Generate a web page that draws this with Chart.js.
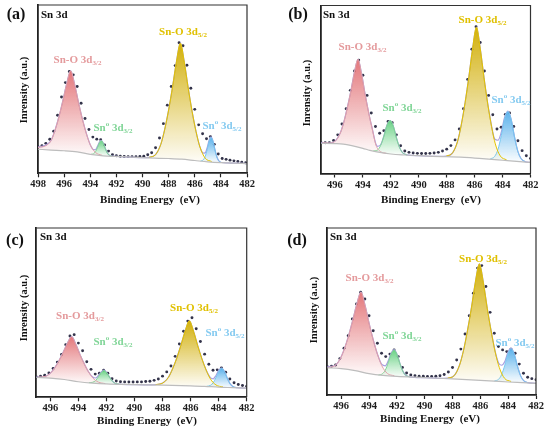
<!DOCTYPE html>
<html>
<head>
<meta charset="utf-8">
<script src="https://cdn.jsdelivr.net/npm/chart.js@4.4.1/dist/chart.umd.min.js"></script>
<style>
html, body { margin: 0; padding: 0; background: #fff; }
#wrap { position: relative; width: 550px; height: 432px; overflow: hidden; }
canvas { position: absolute; }
</style>
</head>
<body>
<div id="wrap">
<canvas id="pa" width="275" height="216" style="left:0;top:0"></canvas>
<canvas id="pb" width="275" height="216" style="left:275px;top:0"></canvas>
<canvas id="pc" width="275" height="216" style="left:0;top:216px"></canvas>
<canvas id="pd" width="275" height="216" style="left:275px;top:216px"></canvas>
</div>
<script>
// ---- panel (a) ----
const ticksA = [498, 496, 494, 492, 490, 488, 486, 484, 482];
const dotXA = [498.0, 497.7, 497.4, 497.1, 496.8, 496.5, 496.2, 495.9, 495.6, 495.3, 495.0, 494.7, 494.4, 494.1, 493.8, 493.5, 493.2, 492.9, 492.6, 492.3, 492.0, 491.7, 491.4, 491.1, 490.8, 490.5, 490.2, 489.9, 489.6, 489.3, 489.0, 488.7, 488.4, 488.1, 487.8, 487.5, 487.2, 486.9, 486.6, 486.3, 486.0, 485.7, 485.4, 485.1, 484.8, 484.5, 484.2, 483.9, 483.6, 483.3, 483.0, 482.7, 482.4, 482.1];
const dotYA = [15.8, 16.4, 17.8, 20.2, 25.0, 34.5, 45.3, 53.9, 60.5, 58.5, 51.6, 41.6, 32.6, 26.0, 21.5, 20.3, 20.0, 16.8, 13.2, 11.0, 10.4, 10.1, 10.0, 9.9, 9.9, 9.9, 10.0, 10.2, 11.0, 12.2, 15.2, 21.0, 29.5, 40.5, 51.6, 64.0, 77.6, 75.8, 64.2, 50.5, 38.0, 28.8, 23.5, 20.5, 21.8, 17.2, 11.5, 8.8, 8.3, 7.8, 7.4, 7.0, 6.6, 6.3];
const bgXA = [498, 497, 496, 495, 494, 493, 492, 490, 488, 487, 486, 485, 484, 483, 482];
const bgYA = [14.3, 13.8, 13.4, 12.7, 11.3, 10.4, 10.0, 9.3, 8.8, 8.4, 7.6, 6.8, 6.3, 6.0, 5.8];
const p1XA = [498.0, 497.4, 497.0, 496.7, 496.4, 496.1, 495.8, 495.5, 495.2, 494.9, 494.6, 494.3, 494.0, 493.6, 493.1];
const p1YA = [15.4, 16.4, 19.5, 25.6, 33.6, 43.1, 53.4, 60.9, 53.0, 42.2, 32.2, 23.7, 17.0, 12.4, 10.7];
const p2XA = [493.95, 493.75, 493.6, 493.45, 493.3, 493.15, 493.0, 492.85, 492.7, 492.55, 492.35];
const p2YA = [11.3, 11.6, 12.8, 15.2, 18.1, 19.4, 17.8, 14.8, 12.1, 10.8, 10.2];
const p3XA = [489.5, 489.0, 488.6, 488.3, 488.0, 487.7, 487.4, 487.1, 486.8, 486.5, 486.2, 485.9, 485.6, 485.2, 484.7];
const p3YA = [9.5, 11.1, 17.2, 26.1, 37.7, 51.4, 66.4, 77.3, 66.1, 50.7, 36.7, 24.8, 15.6, 9.0, 7.0];
const p4XA = [485.55, 485.35, 485.2, 485.05, 484.9, 484.75, 484.6, 484.45, 484.3, 484.15, 483.95];
const p4YA = [7.3, 8.0, 10.0, 14.1, 19.0, 21.3, 18.9, 13.8, 9.5, 7.3, 6.4];
const envXA = [498, 497.4, 497.0, 496.7, 496.4, 496.1, 495.8, 495.5, 495.2, 494.9, 494.6, 494.3, 494.0, 493.75, 493.6, 493.45, 493.3, 493.15, 493.0, 492.85, 492.7, 492.5, 492.0, 491.0, 490.0, 489.5, 489.0, 488.6, 488.3, 488.0, 487.7, 487.4, 487.1, 486.8, 486.5, 486.2, 485.9, 485.6, 485.35, 485.2, 485.05, 484.9, 484.75, 484.6, 484.45, 484.3, 484.15, 483.95, 483.5, 483.0, 482.0];
const envYA = [15.6, 16.8, 19.5, 25.6, 33.6, 43.1, 53.4, 60.9, 53.0, 42.2, 32.2, 23.7, 17.0, 14.1, 14.0, 16.0, 18.6, 19.6, 17.9, 14.9, 12.2, 10.5, 10.0, 9.65, 9.3, 9.5, 11.1, 17.2, 26.1, 37.7, 51.4, 66.4, 77.3, 66.1, 50.7, 36.7, 24.8, 15.6, 12.0, 12.1, 15.2, 19.6, 21.6, 19.0, 13.9, 9.7, 7.4, 6.4, 6.15, 6.0, 5.8];

// ---- panels (b)-(d) share the energy grid ----
const ticksBCD = [496, 494, 492, 490, 488, 486, 484, 482];
const dotXBCD = [497.0, 496.7, 496.4, 496.1, 495.8, 495.5, 495.2, 494.9, 494.6, 494.3, 494.0, 493.7, 493.4, 493.1, 492.8, 492.5, 492.2, 491.9, 491.6, 491.3, 491.0, 490.7, 490.4, 490.1, 489.8, 489.5, 489.2, 488.9, 488.6, 488.3, 488.0, 487.7, 487.4, 487.1, 486.8, 486.5, 486.2, 485.9, 485.6, 485.3, 485.0, 484.7, 484.4, 484.1, 483.8, 483.5, 483.2, 482.9, 482.6, 482.3, 482.0];

// ---- panel (b) ----
const dotYB = [18.4, 18.3, 18.4, 19.6, 23.0, 29.5, 38.5, 49.5, 61.0, 67.5, 58.5, 46.5, 36.0, 28.0, 24.0, 25.5, 31.0, 30.2, 23.0, 16.5, 13.4, 12.6, 12.2, 12.0, 11.9, 11.9, 12.0, 12.2, 12.6, 13.4, 14.5, 16.6, 20.0, 26.5, 38.5, 56.0, 74.0, 87.4, 78.0, 61.0, 46.5, 35.0, 26.5, 27.5, 35.2, 36.0, 28.0, 19.5, 13.6, 10.6, 9.0];
const bgXB = [497, 496, 495.4, 494.8, 494, 493.5, 493, 492, 491, 490, 489, 488, 487, 486, 485, 484, 483, 482];
const bgYB = [18.0, 17.8, 17.5, 16.6, 15.0, 13.8, 12.9, 11.6, 11.0, 10.6, 10.2, 10.0, 9.8, 9.2, 8.6, 7.9, 7.2, 6.6];
const p1XB = [496.9, 496.39, 495.97, 495.63, 495.37, 495.12, 494.86, 494.61, 494.35, 494.09, 493.84, 493.58, 493.33, 493.07, 492.73, 492.31];
const p1YB = [18.3, 18.1, 19.4, 23.9, 30.5, 39.1, 49.2, 60.2, 68.0, 59.1, 47.1, 36.0, 26.6, 17.0, 13.0, 12.0];
const p2XB = [493.25, 492.95, 492.73, 492.5, 492.28, 492.05, 491.82, 491.6, 491.37, 491.15, 490.85];
const p2YB = [13.5, 14.0, 16.7, 22.2, 28.7, 31.5, 28.2, 21.3, 15.4, 12.3, 11.1];
const p3XB = [488.03, 487.58, 487.22, 486.95, 486.68, 486.41, 486.14, 485.87, 485.6, 485.33, 485.06, 484.79, 484.52, 484.16, 483.71];
const p3YB = [10.4, 12.3, 19.2, 29.3, 42.4, 57.8, 74.8, 87.1, 74.5, 57.2, 41.4, 28.0, 17.6, 10.4, 8.1];
const p4XB = [484.88, 484.57, 484.33, 484.09, 483.86, 483.62, 483.38, 483.15, 482.91, 482.67, 482.36];
const p4YB = [8.7, 10.1, 14.3, 22.6, 32.4, 36.9, 32.1, 22.0, 13.3, 8.8, 7.0];
const envXB = [497.0, 496.39, 495.97, 495.63, 495.37, 495.12, 494.86, 494.61, 494.35, 494.09, 493.84, 493.58, 493.33, 493.07, 492.95, 492.73, 492.5, 492.28, 492.05, 491.82, 491.6, 491.37, 491.15, 490.85, 490.0, 489.0, 488.03, 487.58, 487.22, 486.95, 486.68, 486.41, 486.14, 485.87, 485.6, 485.33, 485.06, 484.88, 484.79, 484.57, 484.33, 484.09, 483.86, 483.62, 483.38, 483.15, 482.91, 482.67, 482.36, 482.0];
const envYB = [18.3, 18.1, 19.4, 23.9, 30.5, 39.1, 49.2, 60.2, 68.0, 59.1, 47.1, 36.0, 26.7, 17.6, 16.2, 17.1, 22.3, 28.7, 31.5, 28.2, 21.3, 15.4, 12.3, 11.1, 10.6, 10.2, 10.4, 12.3, 19.2, 29.3, 42.4, 57.8, 74.8, 87.1, 74.5, 57.2, 41.4, 32.7, 28.4, 20.6, 19.8, 24.6, 33.2, 37.2, 32.1, 22.0, 13.3, 8.8, 7.0, 6.6];

// ---- panel (c) ----
const dotYC = [12.0, 12.4, 13.0, 14.4, 17.0, 20.8, 25.3, 31.0, 36.2, 37.0, 32.0, 27.5, 21.0, 16.5, 13.7, 14.2, 16.0, 14.2, 11.0, 9.6, 9.2, 9.1, 9.0, 9.0, 9.1, 9.1, 9.3, 9.5, 10.0, 10.8, 12.5, 15.0, 18.5, 24.2, 31.5, 39.0, 45.0, 47.0, 40.5, 33.0, 25.5, 19.5, 16.0, 16.2, 17.4, 14.8, 10.8, 8.6, 7.6, 7.0, 6.6];
const bgXC = [497, 496, 495, 494, 493, 492, 490, 488, 486, 485, 484, 483, 482];
const bgYC = [11.8, 11.3, 10.5, 9.2, 8.4, 7.9, 7.5, 7.2, 6.8, 6.5, 6.0, 5.7, 5.4];
const p1XC = [496.88, 496.38, 495.98, 495.68, 495.38, 495.08, 494.78, 494.48, 494.18, 493.88, 493.58, 493.28, 492.98, 492.58, 492.08];
const p1YC = [11.9, 12.3, 14.4, 17.5, 21.7, 26.7, 32.1, 35.8, 31.3, 25.2, 19.8, 15.1, 11.5, 9.0, 8.1];
const p2XC = [493.24, 492.97, 492.77, 492.57, 492.37, 492.17, 491.97, 491.77, 491.57, 491.37, 491.1];
const p2YC = [8.65, 8.9, 9.9, 12.1, 14.6, 15.8, 14.4, 11.8, 9.5, 8.2, 7.8];
const p3XC = [488.49, 487.99, 487.59, 487.29, 486.99, 486.69, 486.39, 486.09, 485.79, 485.49, 485.19, 484.89, 484.59, 484.19, 483.69];
const p3YC = [7.5, 8.4, 11.7, 16.7, 23.1, 30.8, 39.1, 45.2, 39.0, 30.5, 22.7, 16.1, 10.9, 7.3, 6.1];
const p4XC = [484.86, 484.59, 484.39, 484.19, 483.99, 483.79, 483.59, 483.39, 483.19, 482.99, 482.72];
const p4YC = [6.5, 7.0, 8.6, 11.7, 15.4, 17.1, 15.3, 11.4, 8.1, 6.4, 5.7];
const envXC = [497.0, 496.88, 496.38, 495.98, 495.68, 495.38, 495.08, 494.78, 494.48, 494.18, 493.88, 493.58, 493.28, 492.98, 492.77, 492.57, 492.37, 492.17, 491.97, 491.77, 491.57, 491.37, 491.1, 490.0, 489.0, 488.49, 487.99, 487.59, 487.29, 486.99, 486.69, 486.39, 486.09, 485.79, 485.49, 485.19, 484.89, 484.59, 484.39, 484.19, 483.99, 483.79, 483.59, 483.39, 483.19, 482.99, 482.72, 482.0];
const envYC = [11.9, 11.9, 12.3, 14.4, 17.5, 21.7, 26.7, 32.1, 35.8, 31.3, 25.2, 19.8, 15.1, 12.0, 11.4, 12.9, 15.0, 16.0, 14.5, 11.8, 9.5, 8.2, 7.8, 7.5, 7.35, 7.5, 8.4, 11.7, 16.7, 23.1, 30.8, 39.1, 45.2, 39.0, 30.5, 22.7, 16.1, 11.6, 10.9, 12.9, 16.0, 17.3, 15.4, 11.4, 8.1, 6.4, 5.7, 5.4];

// ---- panel (d) ----
const dotYD = [17.0, 17.2, 18.0, 21.8, 28.0, 35.5, 45.5, 54.5, 61.6, 57.5, 47.5, 38.5, 31.0, 25.0, 23.0, 24.5, 27.0, 23.0, 16.5, 13.2, 12.0, 11.5, 11.3, 11.2, 11.1, 11.1, 11.2, 11.5, 12.3, 13.8, 16.5, 21.0, 27.5, 36.5, 47.5, 61.0, 76.0, 77.5, 65.0, 49.5, 37.0, 29.0, 27.0, 26.0, 27.5, 25.0, 18.5, 13.0, 10.6, 9.8, 9.2];
const bgXD = [497, 496, 495, 494, 493, 492, 490, 488, 486, 485, 484, 483, 482];
const bgYD = [16.3, 15.8, 14.6, 12.8, 11.7, 11.1, 10.4, 9.6, 8.8, 8.3, 7.8, 7.4, 7.0];
const p1XD = [496.98, 496.48, 496.08, 495.78, 495.48, 495.18, 494.88, 494.58, 494.28, 493.98, 493.68, 493.38, 493.08, 492.68, 492.18];
const p1YD = [16.5, 17.5, 21.6, 27.5, 35.3, 44.5, 54.5, 61.6, 53.5, 42.4, 32.5, 24.1, 17.5, 12.9, 11.5];
const p2XD = [493.32, 493.04, 492.83, 492.62, 492.41, 492.2, 491.99, 491.78, 491.57, 491.36, 491.08];
const p2YD = [12.0, 12.7, 14.9, 19.3, 24.5, 26.9, 24.3, 18.9, 14.3, 11.8, 10.9];
const p3XD = [488.35, 487.88, 487.5, 487.21, 486.93, 486.64, 486.36, 486.07, 485.78, 485.5, 485.21, 484.93, 484.64, 484.26, 483.79];
const p3YD = [10.1, 11.6, 17.8, 26.7, 38.4, 52.3, 67.5, 78.5, 67.2, 51.8, 37.7, 25.7, 16.5, 10.0, 8.1];
const p4XD = [484.99, 484.69, 484.47, 484.24, 484.02, 483.79, 483.56, 483.34, 483.11, 482.89, 482.59];
const p4YD = [8.4, 9.4, 12.2, 17.9, 24.6, 27.7, 24.4, 17.5, 11.6, 8.6, 7.4];
const envXD = [497.0, 496.48, 496.08, 495.78, 495.48, 495.18, 494.88, 494.58, 494.28, 493.98, 493.68, 493.38, 493.08, 492.83, 492.62, 492.41, 492.2, 491.99, 491.78, 491.57, 491.36, 491.08, 490.0, 489.0, 488.35, 487.88, 487.5, 487.21, 486.93, 486.64, 486.36, 486.07, 485.78, 485.5, 485.21, 484.93, 484.69, 484.47, 484.24, 484.02, 483.79, 483.56, 483.34, 483.11, 482.89, 482.59, 482.0];
const envYD = [17.0, 17.5, 21.6, 27.5, 35.3, 44.5, 54.5, 61.6, 53.5, 42.4, 32.5, 24.1, 18.3, 17.5, 20.5, 25.1, 27.2, 24.4, 18.9, 14.3, 11.8, 10.9, 10.4, 10.0, 10.1, 11.6, 17.8, 26.7, 38.4, 52.3, 67.5, 78.5, 67.2, 51.8, 37.7, 25.9, 19.2, 17.8, 20.0, 25.6, 28.1, 24.5, 17.5, 11.6, 8.6, 7.4, 7.0];

// peak names (text parts: n = normal, sub, sup)
const nameSnO32 = [['Sn-O 3d', 'n'], ['3/2', 'sub']];
const nameSn032 = [['Sn', 'n'], ['o', 'sup'], [' 3d', 'n'], ['3/2', 'sub']];
const nameSnO52 = [['Sn-O 3d', 'n'], ['5/2', 'sub']];
const nameSn052 = [['Sn', 'n'], ['o', 'sup'], [' 3d', 'n'], ['5/2', 'sub']];

const SERIF = '"Liberation Serif", "Times New Roman", serif';
const PINK = '226,112,116', GREEN = '100,208,128', GOLD = '208,172,0', BLUE = '84,174,234';
const TXT = { pink: '#e49a9c', green: '#80d597', gold: '#e0c000', blue: '#84caf0' };

Chart.defaults.font.family = SERIF;

const pts = (xs, ys) => xs.map((x, i) => ({ x: x, y: ys[i] }));

// vertical fade from the peak top down to its foot
const fade = rgb => c => {
  const ch = c.chart;
  if (!ch.chartArea || !c.dataset) return 'rgba(' + rgb + ',0.5)';
  const ys = c.dataset.data.map(d => d.y);
  const sy = ch.scales.y;
  const g = ch.ctx.createLinearGradient(0, sy.getPixelForValue(Math.max(...ys)), 0, sy.getPixelForValue(Math.min(...ys)));
  g.addColorStop(0, 'rgba(' + rgb + ',0.95)');
  g.addColorStop(1, 'rgba(' + rgb + ',0.03)');
  return g;
};

function drawName(ctx, parts, cx, cy, color) {
  const big = 'bold 11px ' + SERIF, small = 'bold 7px ' + SERIF;
  let w = 0;
  parts.forEach(p => { ctx.font = p[1] === 'n' ? big : small; w += ctx.measureText(p[0]).width; });
  let x = cx - w / 2;
  ctx.fillStyle = color;
  ctx.textBaseline = 'middle';
  ctx.textAlign = 'left';
  parts.forEach(p => {
    ctx.font = p[1] === 'n' ? big : small;
    const dy = p[1] === 'sub' ? 3.2 : (p[1] === 'sup' ? -3.5 : 0);
    ctx.fillText(p[0], x, cy + dy);
    x += ctx.measureText(p[0]).width;
  });
}

function panel(id, p) {
  const W = 275, H = 216, a = p.area;
  const peak = (xs, ys, rgb, line) => ({
    data: pts(xs, ys), borderColor: line, borderWidth: 1, pointRadius: 0,
    cubicInterpolationMode: 'monotone', fill: { target: 0 }, backgroundColor: fade(rgb)
  });
  const deco = {
    id: 'deco',
    afterDraw(chart) {
      const ctx = chart.ctx, ca = chart.chartArea;
      ctx.save();
      ctx.strokeStyle = '#333';
      ctx.lineWidth = 1.2;
      ctx.beginPath();
      ctx.moveTo(ca.left, ca.top);
      ctx.lineTo(ca.right, ca.top);
      ctx.lineTo(ca.right, ca.bottom);
      ctx.stroke();
      p.names.forEach(n => drawName(ctx, n[0], n[1], n[2], n[3]));
      ctx.fillStyle = '#111';
      ctx.textBaseline = 'middle';
      ctx.textAlign = 'center';
      ctx.font = 'bold 16px ' + SERIF;
      ctx.fillText(p.letter, p.letterAt[0], p.letterAt[1]);
      ctx.textAlign = 'left';
      ctx.font = 'bold 11px ' + SERIF;
      ctx.fillText('Sn 3d', p.snAt[0], p.snAt[1]);
      ctx.textAlign = 'center';
      ctx.font = 'bold 11px ' + SERIF;
      ctx.fillText('Binding Energy  (eV)', p.xTitleAt[0], p.xTitleAt[1]);
      ctx.translate(p.yTitleAt[0], p.yTitleAt[1]);
      ctx.rotate(-Math.PI / 2);
      ctx.font = 'bold 10.5px ' + SERIF;
      ctx.fillText('Inrensity (a.u.)', 0, 0);
      ctx.restore();
    }
  };
  new Chart(document.getElementById(id), {
    type: 'line',
    data: {
      datasets: [
        { data: pts(p.bgX, p.bgY), borderColor: '#bdbdbd', borderWidth: 1.2, pointRadius: 0, cubicInterpolationMode: 'monotone', fill: false },
        peak(p.p1X, p.p1Y, PINK, '#e0a2ab'),
        peak(p.p2X, p.p2Y, GREEN, '#80d597'),
        peak(p.p3X, p.p3Y, GOLD, '#e2c300'),
        peak(p.p4X, p.p4Y, BLUE, '#76c7f0'),
        { data: pts(p.envX, p.envY), borderColor: '#a89fe0', borderWidth: 1.2, pointRadius: 0, cubicInterpolationMode: 'monotone', fill: false },
        { data: pts(p.dotX, p.dotY), showLine: false, pointRadius: 1.45, pointBackgroundColor: '#33334a', pointBorderWidth: 0, fill: false }
      ]
    },
    options: {
      responsive: false,
      animation: false,
      events: [],
      layout: { padding: { left: a[0], top: a[1], right: W - a[2], bottom: 0 } },
      plugins: { legend: { display: false }, tooltip: { enabled: false } },
      scales: {
        x: {
          type: 'linear', min: p.xMin, max: p.xMax, reverse: true,
          afterBuildTicks: s => { s.ticks = p.ticks.map(v => ({ value: v })); },
          afterFit: s => { s.height = H - a[3]; },
          ticks: { font: { family: SERIF, size: 10.5, weight: 'bold' }, color: '#1e1e1e', padding: 1, maxRotation: 0, autoSkip: false },
          grid: { display: true, drawOnChartArea: false, drawTicks: true, tickLength: 4, tickWidth: 1.2, tickColor: '#222' },
          border: { display: true, color: '#222', width: 1.8 }
        },
        y: {
          type: 'linear', min: 0, max: 100,
          afterFit: s => { s.width = 0; },
          ticks: { display: false },
          grid: { display: false, drawTicks: false },
          border: { display: true, color: '#222', width: 1.8 }
        }
      }
    },
    plugins: [deco]
  });
}

panel('pa', {
  area: [38, 5, 247, 173.3], xMin: 482, xMax: 498, ticks: ticksA,
  dotX: dotXA, dotY: dotYA, bgX: bgXA, bgY: bgYA, envX: envXA, envY: envYA,
  p1X: p1XA, p1Y: p1YA, p2X: p2XA, p2Y: p2YA, p3X: p3XA, p3Y: p3YA, p4X: p4XA, p4Y: p4YA,
  letter: '(a)', letterAt: [16, 15], snAt: [41, 15], xTitleAt: [150, 200], yTitleAt: [24, 90],
  names: [[nameSnO32, 77.5, 60, TXT.pink], [nameSn032, 113, 128, TXT.green], [nameSnO52, 183, 32, TXT.gold], [nameSn052, 222, 126, TXT.blue]]
});
panel('pb', {
  area: [46, 5.5, 255.5, 173.5], xMin: 482, xMax: 497, ticks: ticksBCD,
  dotX: dotXBCD, dotY: dotYB, bgX: bgXB, bgY: bgYB, envX: envXB, envY: envYB,
  p1X: p1XB, p1Y: p1YB, p2X: p2XB, p2Y: p2YB, p3X: p3XB, p3Y: p3YB, p4X: p4XB, p4Y: p4YB,
  letter: '(b)', letterAt: [23, 15], snAt: [48, 15], xTitleAt: [156, 200], yTitleAt: [32, 93],
  names: [[nameSnO32, 87.5, 47, TXT.pink], [nameSn032, 127, 108, TXT.green], [nameSnO52, 207.5, 20, TXT.gold], [nameSn052, 236, 100, TXT.blue]]
});
panel('pc', {
  area: [36.3, 12, 246.7, 181.3], xMin: 482, xMax: 497, ticks: ticksBCD,
  dotX: dotXBCD, dotY: dotYC, bgX: bgXC, bgY: bgYC, envX: envXC, envY: envYC,
  p1X: p1XC, p1Y: p1YC, p2X: p2XC, p2Y: p2YC, p3X: p3XC, p3Y: p3YC, p4X: p4XC, p4Y: p4YC,
  letter: '(c)', letterAt: [15, 25], snAt: [40, 21.5], xTitleAt: [147, 205], yTitleAt: [24, 92],
  names: [[nameSnO32, 80, 100, TXT.pink], [nameSn032, 113, 126, TXT.green], [nameSnO52, 194, 92, TXT.gold], [nameSn052, 225, 117, TXT.blue]]
});
panel('pd', {
  area: [52.3, 12, 261, 179], xMin: 482, xMax: 497, ticks: ticksBCD,
  dotX: dotXBCD, dotY: dotYD, bgX: bgXD, bgY: bgYD, envX: envXD, envY: envYD,
  p1X: p1XD, p1Y: p1YD, p2X: p2XD, p2Y: p2YD, p3X: p3XD, p3Y: p3YD, p4X: p4XD, p4Y: p4YD,
  letter: '(d)', letterAt: [22, 25], snAt: [55, 20.7], xTitleAt: [155, 203], yTitleAt: [39, 94],
  names: [[nameSnO32, 94.5, 62, TXT.pink], [nameSn032, 127, 120, TXT.green], [nameSnO52, 208, 43, TXT.gold], [nameSn052, 240, 127, TXT.blue]]
});
</script>
</body>
</html>
